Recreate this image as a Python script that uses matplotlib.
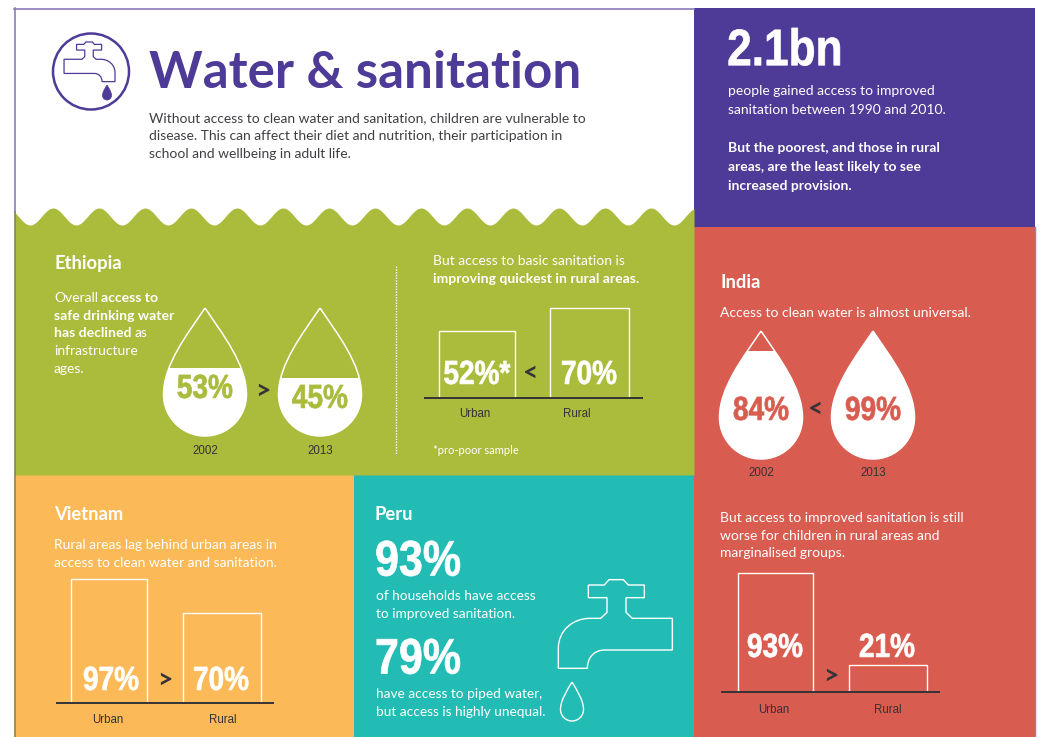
import numpy as np
import matplotlib
matplotlib.use("Agg")
import matplotlib.pyplot as plt
from matplotlib.patches import Rectangle, PathPatch, Circle
from matplotlib.path import Path
from matplotlib.patheffects import AbstractPathEffect
from matplotlib.transforms import Affine2D

plt.rcParams["font.family"] = ["Lato", "DejaVu Sans"]

# Data
ethiopia_years = ["2002", "2013"]
ethiopia_water = [53, 45]
ethiopia_groups = ["Urban", "Rural"]
ethiopia_sanitation = [52, 70]
ethiopia_sanitation_labels = ["52%*", "70%"]
india_years = ["2002", "2013"]
india_water = [84, 99]
india_groups = ["Urban", "Rural"]
india_sanitation = [93, 21]
vietnam_groups = ["Urban", "Rural"]
vietnam_access = [97, 70]
peru_values = [93, 79]

PURPLE = "#4e3a97"
GREEN = "#abbb3c"
ORANGE = "#fbb958"
TEAL = "#22bcb5"
RED = "#d95c50"
DARK = "#333338"
NUM_FONT = ["Liberation Sans", "DejaVu Sans"]
SMALL_FONT = ["Liberation Sans", "DejaVu Sans"]
PX_PER_PCT = 1.28

W, H = 1042, 737
fig = plt.figure(figsize=(W / 100, H / 100), dpi=100, facecolor="white")
ax = fig.add_axes([0, 0, 1, 1])
ax.set_xlim(0, W)
ax.set_ylim(H, 0)
ax.axis("off")


class Squeeze(AbstractPathEffect):
    # no condensed font installed, so narrow the glyphs about their middle
    def __init__(self, sx, stroke=0.5):
        super().__init__()
        self.sx = sx
        self.stroke = stroke

    def draw_path(self, renderer, gc, tpath, affine, rgbFace=None):
        ext = tpath.get_extents()
        mid = (ext.x0 + ext.x1) / 2
        squeeze = Affine2D().translate(-mid, 0).scale(self.sx, 1).translate(mid, 0)
        gc0 = renderer.new_gc()
        gc0.copy_properties(gc)
        gc0.set_foreground(rgbFace)
        gc0.set_linewidth(self.stroke)
        renderer.draw_path(gc0, tpath, squeeze + affine, rgbFace)
        gc0.restore()


def rich(x, y, runs, size=10, color="white"):
    # runs of plain / bold text on one line
    r = fig.canvas.get_renderer()
    for txt, bold in runs:
        t = ax.text(x, y + 1, txt, fontsize=size + 0.1 if bold else size, color=color, va="center",
                    fontweight="bold" if bold else "normal")
        bb = t.get_window_extent(r)
        x = bb.x1 + size * 0.34


def heading(x, y, txt):
    ax.text(x, y + 1, txt, fontsize=13.2, color="white", fontweight="bold", va="center")


def small(x, y, txt):
    ax.text(x, y + 1, txt, fontsize=8.3, color=DARK, family=SMALL_FONT, ha="center", va="center")


def number(x, y, txt, size=24, color="white", sx=0.84):
    ax.text(x, y + size * 0.1, txt, fontsize=size, color=color, family=NUM_FONT, fontweight="bold",
            ha="center", va="center", path_effects=[Squeeze(sx)])


def sign(x, y, txt):
    ax.text(x, y, txt, fontsize=19, color=DARK, fontweight="bold", ha="center", va="center")


def drop_path(cx, top, bottom, width):
    r = width / 2
    cy = bottom - r
    d = cy - top
    k = 0.5523 * r
    verts = [(cx, top),
             (cx + 0.42 * r, top + 0.3 * d), (cx + r, cy - 0.35 * d), (cx + r, cy),
             (cx + r, cy + k), (cx + k, bottom), (cx, bottom),
             (cx - k, bottom), (cx - r, cy + k), (cx - r, cy),
             (cx - r, cy - 0.35 * d), (cx - 0.42 * r, top + 0.3 * d), (cx, top)]
    codes = [Path.MOVETO] + [Path.CURVE4] * 12
    return Path(verts, codes)


def water_drop(cx, top, bottom, width, value):
    p = drop_path(cx, top, bottom, width)
    ax.add_patch(PathPatch(p, fc="none", ec="white", lw=1.1, zorder=3))
    level = bottom - (bottom - top) * value / 100
    fill = Rectangle((cx - width, level), 2 * width, bottom - level, fc="white", ec="none", zorder=2)
    ax.add_patch(fill)
    fill.set_clip_path(PathPatch(p, transform=ax.transData))


def bar_chart(x0, x1, base, top_px, centers, widths, values):
    # inset axes so that bar heights come from the percent values
    a = fig.add_axes([x0 / W, 1 - base / H, (x1 - x0) / W, (base - top_px) / H])
    a.patch.set_alpha(0)
    a.set_xlim(x0, x1)
    a.set_ylim(0, (base - top_px) / PX_PER_PCT)
    a.bar(centers, values, width=widths, fc="none", ec="white", lw=1.0)
    for s in ["top", "left", "right"]:
        a.spines[s].set_visible(False)
    a.spines["bottom"].set_color(DARK)
    a.spines["bottom"].set_linewidth(1.4)
    a.set_xticks([])
    a.set_yticks([])


# panels
ax.add_patch(Rectangle((694, 8), 341, 220, fc=PURPLE, ec="none"))
ax.add_patch(Rectangle((694, 227), 341, 510, fc=RED, ec="none"))
ax.add_patch(Rectangle((14, 475), 340, 262, fc=ORANGE, ec="none"))
ax.add_patch(Rectangle((354, 475), 340, 262, fc=TEAL, ec="none"))
wx = np.linspace(14, 694, 500)
wy = 216.5 - 8.5 * np.cos(2 * np.pi * (wx - 53) / 46)
ax.fill_between(wx, wy, 475, color=GREEN, lw=0)
ax.plot([14, 694], [8.5, 8.5], color="#8c7cc0", lw=1.2)
ax.plot([14.5, 14.5], [8, 212], color="#8c7cc0", lw=1.2)
ax.plot([14.5, 14.5], [212, 737], color="#7d7a5c", lw=1.2, alpha=0.8)
ax.plot([1034.5, 1034.5], [227, 737], color="#8c7cc0", lw=1.0)

# title block
faucet_pts = [(145, 75), (193, 75), (207, 59), (250, 59), (265, 75), (313, 75), (313, 113), (258, 113),
              (258, 157), (277, 175), (397, 175), (397, 270), (195, 270), (160, 270), (142, 295), (142, 325),
              (55, 325), (55, 265), (55, 210), (100, 175), (150, 175), (182, 175), (201, 157), (201, 113),
              (145, 113), (145, 75)]
faucet_codes = [Path.MOVETO] + [Path.LINETO] * 12 + [Path.CURVE4] * 3 + [Path.LINETO] * 2 + \
    [Path.CURVE4] * 3 + [Path.LINETO] * 5
pts = np.array(faucet_pts, dtype=float)

ax.add_patch(Circle((91, 71.5), 38, fc="none", ec=PURPLE, lw=1.8))
icon = np.column_stack([115 - (pts[:, 0] - 55) * 0.149, 42 + (pts[:, 1] - 59) * 0.149])
ax.add_patch(PathPatch(Path(icon, faucet_codes), fc="none", ec=PURPLE, lw=0.9))
ax.add_patch(PathPatch(drop_path(107, 85, 100, 9), fc=PURPLE, ec=PURPLE, lw=0.5))

ax.text(149, 87.5, "Water & sanitation", fontsize=36.8, color=PURPLE, fontweight="bold", va="baseline")
intro = ["Without access to clean water and sanitation, children are vulnerable to",
         "disease. This can affect their diet and nutrition, their participation in",
         "school and wellbeing in adult life."]
for i, line in enumerate(intro):
    ax.text(149, 118.5 + i * 17.8, line, fontsize=10.02, color="#3f3f44", va="center")

# 2.1bn panel
number(785, 48, "2.1bn", size=37, sx=0.86)
for i, line in enumerate(["people gained access to improved", "sanitation between 1990 and 2010."]):
    ax.text(728, 91 + i * 19, line, fontsize=10, color="white", va="center")
for i, line in enumerate(["But the poorest, and those in rural", "areas, are the least likely to see",
                          "increased provision."]):
    ax.text(728, 148 + i * 19, line, fontsize=10, color="white", fontweight="bold", va="center")

# Ethiopia
heading(54, 262, "Ethiopia")
rich(54, 297, [("Overall", False), ("access to", True)])
rich(54, 315, [("safe drinking water", True)])
rich(54, 332, [("has declined", True), ("as", False)])
rich(54, 350, [("infrastructure", False)])
rich(54, 368, [("ages.", False)])
for cx, val, yr, ty in zip([205, 320], ethiopia_water, ethiopia_years, [387, 397]):
    water_drop(cx, 308, 436, 83, val)
    number(cx, ty, "%d%%" % val, color=GREEN)
    small(cx, 450, yr)
sign(263, 391, ">")
ax.plot([396, 396], [266, 455], color="white", lw=1, ls=(0, (1, 1)))
rich(433, 260, [("But access to basic sanitation is", False)])
rich(433, 278, [("improving quickest in rural areas.", True)])
bar_chart(425, 642, 398, 290, [477, 589.5], [76, 79], ethiopia_sanitation)
for cx, lab, g, lx in zip([477, 589], ethiopia_sanitation_labels, ethiopia_groups, [475, 577]):
    number(cx, 373, lab)
    small(lx, 413, g)
sign(531, 373, "<")
ax.text(433, 450, "*pro-poor sample", fontsize=8, color="white", va="center")

# Vietnam
heading(54, 514, "Vietnam")
rich(54, 544, [("Rural areas lag behind urban areas in", False)])
rich(54, 562, [("access to clean water and sanitation.", False)])
bar_chart(57, 273, 703, 570, [109, 222], [76, 78], vietnam_access)
for cx, val, g, lx in zip([111, 221], vietnam_access, vietnam_groups, [108, 223]):
    number(cx, 679, "%d%%" % val)
    small(lx, 719, g)
sign(165, 680, ">")

# Peru
heading(375, 514, "Peru")
number(418, 559, "%d%%" % peru_values[0], size=36, sx=0.86)
rich(376, 595, [("of households have access", False)], size=9.85)
rich(376, 613, [("to improved sanitation.", False)], size=9.85)
number(418, 657, "%d%%" % peru_values[1], size=36, sx=0.86)
rich(376, 693, [("have access to piped water,", False)], size=9.85)
rich(376, 711, [("but access is highly unequal.", False)], size=9.85)
big = np.column_stack([540 + pts[:, 0] / 3, 560 + pts[:, 1] / 3])
ax.add_patch(PathPatch(Path(big, faucet_codes), fc="none", ec="white", lw=1.0))
ax.add_patch(PathPatch(drop_path(572, 682, 721, 23), fc="none", ec="white", lw=1.0))

# India
heading(720, 281, "India")
rich(720, 312, [("Access to clean water is almost universal.", False)])
for cx, val, yr in zip([761, 873], india_water, india_years):
    water_drop(cx, 331, 459, 83, val)
    number(cx, 409, "%d%%" % val, color=RED)
    small(cx, 472, yr)
sign(816, 409, "<")
rich(720, 517, [("But access to improved sanitation is still", False)])
rich(720, 535, [("worse for children in rural areas and", False)])
rich(720, 552, [("marginalised groups.", False)])
bar_chart(722, 939, 692, 565, [775.5, 888], [75, 78], india_sanitation)
for cx, val, g, lx in zip([775, 887], india_sanitation, india_groups, [774, 888]):
    number(cx, 646, "%d%%" % val)
    small(lx, 709, g)
sign(831, 676, ">")

fig.savefig("out.png", dpi=100)
